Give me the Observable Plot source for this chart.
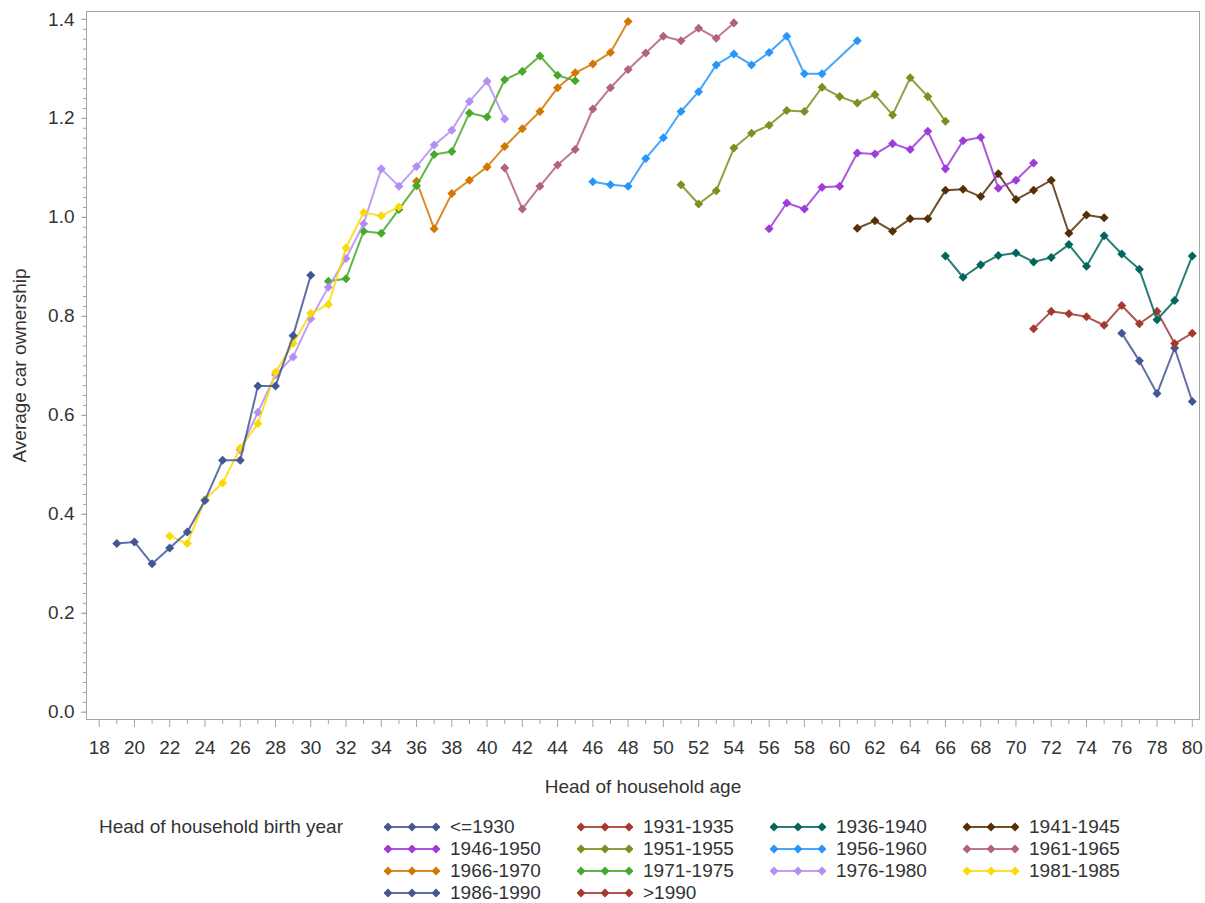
<!DOCTYPE html>
<html><head><meta charset="utf-8">
<script src="https://cdn.jsdelivr.net/npm/d3@7"></script>
<script src="https://cdn.jsdelivr.net/npm/@observablehq/plot@0.6"></script>
<style>
body{margin:0;background:#fff;font-family:"Liberation Sans",Arial,sans-serif;}
#legend{position:relative;height:103px;width:1205px;font-size:19px;color:#333;}
.lt{position:absolute;left:99px;top:16px;line-height:22px;white-space:nowrap}
.li{position:absolute;display:flex;align-items:center;height:22px;line-height:22px;white-space:nowrap}
.li svg{margin-right:10px;display:block}
</style></head><body><div id="chart"></div><div id="legend"></div>
<script>
// Cohorts (head of household birth year), in SAS drawing order
const cohorts = ["<=1930","1931-1935","1936-1940","1941-1945","1946-1950","1951-1955","1956-1960","1961-1965","1966-1970","1971-1975","1976-1980","1981-1985","1986-1990",">1990"];
const colors  = ["#445694","#A23A2E","#01665E","#543005","#9D3CDB","#7F8E1F","#2597FA","#B26084","#D17800","#47A82A","#B38EF3","#F9DA04","#445694","#A23A2E"];
// first observed age of each cohort
const firstAge = [76,71,66,61,56,51,46,41,36,31,26,22,19,null];
// average car ownership at consecutive ages (null = not observed)
const own1930 = [0.766,0.710,0.644,0.736,0.628];
const own1931 = [0.775,0.810,0.805,0.799,0.782,0.822,0.785,0.810,0.745,0.766];
const own1936 = [0.922,0.879,0.904,0.923,0.928,0.910,0.919,0.945,0.901,0.963,0.926,0.895,0.793,0.832,0.922];
const own1941 = [0.978,0.993,0.972,0.997,0.997,1.055,1.057,1.042,1.088,1.036,1.055,1.075,0.968,1.005,0.999];
const own1946 = [0.977,1.029,1.017,1.061,1.063,1.130,1.128,1.149,1.137,1.174,1.098,1.155,1.162,1.059,1.075,1.110];
const own1951 = [1.066,1.027,1.054,1.140,1.170,1.186,1.216,1.214,1.263,1.244,1.231,1.248,1.207,1.282,1.244,1.194];
const own1956 = [1.072,1.066,1.063,1.119,1.161,1.214,1.254,1.308,1.330,1.308,1.333,1.366,1.290,1.290,null,1.357];
const own1961 = [1.100,1.017,1.063,1.106,1.137,1.219,1.262,1.299,1.332,1.366,1.357,1.382,1.362,1.393];
const own1966 = [1.073,0.977,1.048,1.075,1.102,1.143,1.179,1.214,1.262,1.292,1.310,1.333,1.396];
const own1971 = [0.871,0.876,0.972,0.968,1.016,1.064,1.127,1.133,1.211,1.203,1.278,1.295,1.326,1.287,1.276];
const own1976 = [0.530,0.606,0.682,0.718,0.795,0.859,0.917,0.987,1.098,1.063,1.103,1.146,1.176,1.234,1.275,1.199];
const own1981 = [0.356,0.341,0.430,0.463,0.534,0.583,0.687,0.745,0.806,0.824,0.938,1.010,1.003,1.021];
const own1986 = [0.341,0.344,0.300,0.332,0.364,0.428,0.509,0.509,0.659,0.659,0.761,0.883];
const own1990 = [];
const series = [own1930,own1931,own1936,own1941,own1946,own1951,own1956,own1961,own1966,own1971,own1976,own1981,own1986,own1990];

const xMajor = d3.range(18, 81, 2);
const xMinor = d3.range(19, 80, 2);
const yMajor = [0,0.2,0.4,0.6,0.8,1.0,1.2,1.4];
const yMinor = d3.range(0, 71).map(i => i * 0.02);

const rows = [];
series.forEach((vals, i) => vals.forEach((v, j) => {
  if (v != null) rows.push({cohort: cohorts[i], idx: i, age: firstAge[i] + j, value: v});
}));

const diamond = {draw(ctx, size) { const r = Math.sqrt(size / 2); ctx.moveTo(0,-r); ctx.lineTo(r,0); ctx.lineTo(0,r); ctx.lineTo(-r,0); ctx.closePath(); }};

const seriesMarks = [];
cohorts.forEach((c, i) => {
  const d = rows.filter(r => r.idx === i);
  if (!d.length) return;
  seriesMarks.push(Plot.line(d, {x: "age", y: "value", stroke: colors[i], strokeWidth: 2, strokeOpacity: 0.85}));
  seriesMarks.push(Plot.dot(d, {x: "age", y: "value", fill: colors[i], symbol: diamond, r: 3.6}));
});

const axisGrey = "#a5a5a5";
const chart = Plot.plot({
  width: 1205, height: 800,
  marginLeft: 86, marginRight: 6, marginTop: 11, marginBottom: 81,
  style: {fontFamily: "'Liberation Sans', Arial, sans-serif", fontSize: "19px", color: "#333", background: "#fff"},
  x: {domain: [17.28, 80.41]},
  y: {domain: [-0.0147, 1.416]},
  marks: [
    Plot.axisX(xMinor, {tickSize: 5, tickFormat: () => "", label: null, stroke: axisGrey}),
    Plot.axisX(xMajor, {tickSize: 8, tickPadding: 13, tickFormat: d => String(d), stroke: axisGrey, fill: "#333",
      label: "Head of household age", labelAnchor: "center", labelOffset: 73, labelArrow: "none"}),
    Plot.axisY(yMinor, {tickSize: 3, tickFormat: () => "", label: null, stroke: axisGrey}),
    Plot.axisY(yMajor, {tickSize: 5, tickPadding: 7, tickFormat: d3.format(".1f"), stroke: axisGrey, fill: "#333",
      label: "Average car ownership", labelAnchor: "center", labelOffset: 74, labelArrow: "none"}),
    Plot.frame({stroke: axisGrey}),
    ...seriesMarks
  ]
});
document.getElementById("chart").appendChild(chart);

// Legend
const legend = d3.select("#legend");
legend.append("div").attr("class", "lt").text("Head of household birth year");
cohorts.forEach((c, i) => {
  const row = Math.floor(i / 4), col = i % 4;
  const item = legend.append("div").attr("class", "li")
    .style("left", (384 + col * 193) + "px").style("top", (16 + row * 22) + "px");
  const sv = item.append("svg").attr("width", 56).attr("height", 14);
  sv.append("line").attr("x1", 3).attr("x2", 53).attr("y1", 7).attr("y2", 7)
    .attr("stroke", colors[i]).attr("stroke-width", 2).attr("stroke-opacity", 0.85);
  [4, 28, 52].forEach(x => sv.append("path")
    .attr("d", `M${x},2.5L${x+4.5},7L${x},11.5L${x-4.5},7Z`).attr("fill", colors[i]));
  item.append("span").text(c);
});
</script></body></html>
